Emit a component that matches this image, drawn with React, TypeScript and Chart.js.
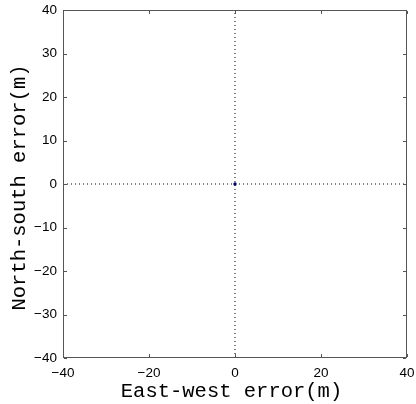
import React, { useEffect, useRef } from "react";
import { Chart, registerables } from "chart.js";

Chart.register(...registerables);

// ---- data ----
const xRange = [-40, 40];
const yRange = [-40, 40];
const xStep = 20;
const yStep = 10;
const errorEast = [0];
const errorNorth = [0];
const xTitle = "East-west error(m)";
const yTitle = "North-south error(m)";

const AXIS_COLOR = "#555555";

const boxPlugin = {
  id: "matlabBox",
  afterDraw(chart: any) {
    const { ctx, chartArea } = chart;
    const { left, top, right, bottom } = chartArea;
    ctx.save();
    ctx.strokeStyle = AXIS_COLOR;
    ctx.lineWidth = 1;
    ctx.strokeRect(left + 0.5, top + 0.5, right - left - 1, bottom - top - 1);
    const tl = 3;
    ctx.beginPath();
    const xs = chart.scales.x;
    xs.ticks.forEach((t: any) => {
      const px = Math.round(xs.getPixelForValue(t.value)) + 0.5;
      ctx.moveTo(px, bottom - 1);
      ctx.lineTo(px, bottom - 1 - tl);
      ctx.moveTo(px, top + 1);
      ctx.lineTo(px, top + 1 + tl);
    });
    const ys = chart.scales.y;
    ys.ticks.forEach((t: any) => {
      const py = Math.round(ys.getPixelForValue(t.value)) + 0.5;
      ctx.moveTo(left + 1, py);
      ctx.lineTo(left + 1 + tl, py);
      ctx.moveTo(right - 1, py);
      ctx.lineTo(right - 1 - tl, py);
    });
    ctx.stroke();

    // axis titles
    ctx.fillStyle = "#000";
    ctx.font = '20.5px "Liberation Mono", "Courier New", monospace';
    ctx.textAlign = "center";
    ctx.textBaseline = "alphabetic";
    ctx.fillText(xTitle, (left + right) / 2 - 3.5, 397);
    ctx.translate(25, (top + bottom) / 2 + 3.5);
    ctx.rotate(-Math.PI / 2);
    ctx.fillText(yTitle, 0, 0);
    ctx.restore();
  },
};

const fmt = (v: any) => {
  const n = Number(v);
  return n < 0 ? "\u2212" + Math.abs(n) : String(n);
};

export default function App() {
  const ref = useRef<HTMLCanvasElement | null>(null);
  useEffect(() => {
    if (!ref.current) return;
    const chart = new Chart(ref.current, {
      type: "scatter",
      data: {
        datasets: [
          {
            data: [
              { x: xRange[0], y: 0 },
              { x: xRange[1], y: 0 },
            ],
            showLine: true,
            borderColor: "#000",
            borderWidth: 1,
            borderDash: [1, 3],
            pointRadius: 0,
          },
          {
            data: [
              { x: 0, y: yRange[0] },
              { x: 0, y: yRange[1] },
            ],
            showLine: true,
            borderColor: "#000",
            borderWidth: 1,
            borderDash: [1, 3],
            pointRadius: 0,
          },
          {
            data: errorEast.map((x, i) => ({ x, y: errorNorth[i] })),
            pointRadius: 1.7,
            pointStyle: "circle",
            backgroundColor: "#00007a",
            borderColor: "#00007a",
            borderWidth: 0,
          },
        ],
      },
      options: {
        responsive: false,
        animation: false,
        events: [],
        layout: { padding: { top: 10, right: 9, left: 0, bottom: 0 } },
        plugins: { legend: { display: false }, tooltip: { enabled: false } },
        scales: {
          x: {
            type: "linear",
            min: xRange[0],
            max: xRange[1],
            grid: { display: false, drawTicks: false },
            border: { display: false },
            ticks: {
              stepSize: xStep,
              padding: 7,
              color: "#000",
              maxRotation: 0,
              font: { family: '"Liberation Sans", Arial, sans-serif', size: 13.5 },
              callback: fmt,
            },
            afterFit: (s: any) => {
              s.height = 46;
              s.paddingLeft = 0;
              s.paddingRight = 0;
            },
          },
          y: {
            type: "linear",
            min: yRange[0],
            max: yRange[1],
            grid: { display: false, drawTicks: false },
            border: { display: false },
            ticks: {
              stepSize: yStep,
              padding: 6,
              color: "#000",
              font: { family: '"Liberation Sans", Arial, sans-serif', size: 13.5 },
              callback: fmt,
            },
            afterFit: (s: any) => {
              s.width = 63;
              s.paddingTop = 0;
              s.paddingBottom = 0;
            },
          },
        },
      },
      plugins: [boxPlugin],
    });
    return () => chart.destroy();
  }, []);
  return (
    <div style={{ position: "fixed", left: 0, top: 0, width: 416, height: 404, background: "#fff" }}>
      <canvas ref={ref} width={416} height={404} style={{ display: "block" }} />
    </div>
  );
}
